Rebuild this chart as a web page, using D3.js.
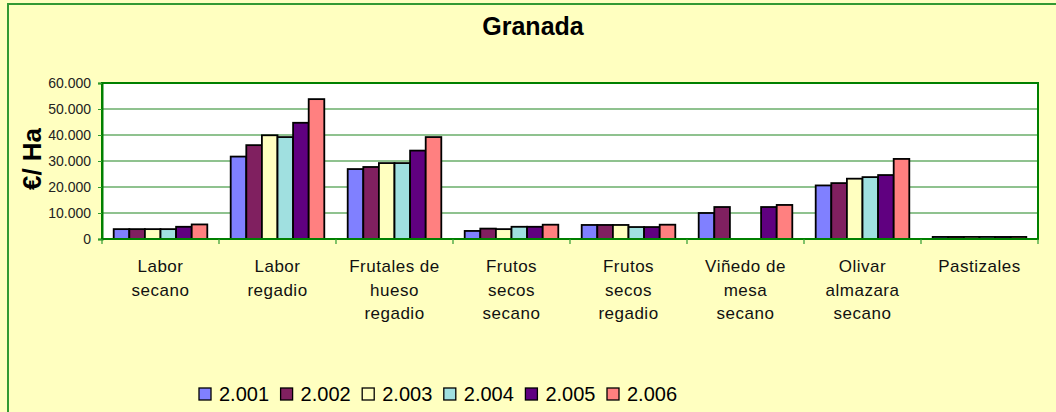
<!DOCTYPE html>
<html>
<head>
<meta charset="utf-8">
<script src="https://cdn.jsdelivr.net/npm/d3@7"></script>
<style>
  html, body { margin: 0; padding: 0; background: #FFFFC0; }
  svg { display: block; font-family: "Liberation Sans", Arial, sans-serif; }
</style>
</head>
<body>
<div id="chart"></div>
<script>
// categories (line breaks as in the original labels)
var categories = [
  "Labor\nsecano",
  "Labor\nregadio",
  "Frutales de\nhueso\nregadio",
  "Frutos\nsecos\nsecano",
  "Frutos\nsecos\nregadio",
  "Viñedo de\nmesa\nsecano",
  "Olivar\nalmazara\nsecano",
  "Pastizales"
];
var years = ["2.001", "2.002", "2.003", "2.004", "2.005", "2.006"];
var colors = ["#8080FF", "#802060", "#FFFFC0", "#A0E0E0", "#600080", "#FF8080"];

// €/Ha per year, one value per category
var v2001 = [3800, 31700, 26900, 3100, 5400, 10000, 20600, 800];
var v2002 = [3800, 36100, 27700, 4000, 5400, 12300, 21500, 800];
var v2003 = [3800, 39900, 29200, 3800, 5400, null, 23200, 800];
var v2004 = [3800, 39200, 29200, 4700, 4600, null, 23800, 800];
var v2005 = [4700, 44700, 34000, 4700, 4600, 12300, 24600, 800];
var v2006 = [5600, 53800, 39200, 5500, 5500, 13100, 30800, 800];
var series = [v2001, v2002, v2003, v2004, v2005, v2006];

var yTicks = [0, 10000, 20000, 30000, 40000, 50000, 60000];

var W = 1056, H = 412;
var plot = {left: 102, right: 1038, top: 83, bottom: 239};

var svg = d3.select("#chart").append("svg")
  .attr("width", W)
  .attr("height", H);

// chart background + green frame (left and top visible)
svg.append("rect")
  .attr("x", 0).attr("y", 0).attr("width", W).attr("height", H)
  .attr("fill", "#FFFFC0");
svg.append("path")
  .attr("d", "M8," + H + "V4H" + W)
  .attr("fill", "none")
  .attr("stroke", "#339933")
  .attr("stroke-width", 2);

var x = d3.scaleBand()
  .domain(categories)
  .range([plot.left, plot.right])
  .padding(0);

var xs = d3.scaleBand()
  .domain(years)
  .range([0, x.bandwidth()])
  .paddingInner(0)
  .paddingOuter(0.75);

var y = d3.scaleLinear()
  .domain([0, 60000])
  .range([plot.bottom, plot.top]);

var locale = d3.formatLocale({decimal: ",", thousands: ".", grouping: [3], currency: ["", ""]});
var fmt = locale.format(",.0f");

// plot area
svg.append("rect")
  .attr("x", plot.left).attr("y", plot.top)
  .attr("width", plot.right - plot.left).attr("height", plot.bottom - plot.top)
  .attr("fill", "#ffffff");

// gridlines
svg.append("g")
  .selectAll("line")
  .data(yTicks.filter(function(d) { return d > 0 && d < 60000; }))
  .enter()
  .append("line")
    .attr("x1", plot.left).attr("x2", plot.right)
    .attr("y1", function(d) { return y(d); })
    .attr("y2", function(d) { return y(d); })
    .attr("stroke", "#6aae6a")
    .attr("stroke-width", 1.3);

// bars
var groups = svg.append("g")
  .selectAll("g")
  .data(series)
  .enter()
  .append("g")
    .attr("fill", function(d, i) { return colors[i]; });

groups.selectAll("rect")
  .data(function(d, i) {
    return d.map(function(v, j) { return {v: v, cat: categories[j], year: years[i]}; })
      .filter(function(e) { return e.v != null; });
  })
  .enter()
  .append("rect")
    .attr("x", function(d) { return x(d.cat) + xs(d.year); })
    .attr("y", function(d) { return y(d.v); })
    .attr("width", xs.bandwidth())
    .attr("height", function(d) { return y(0) - y(d.v); })
    .attr("stroke", "#000")
    .attr("stroke-width", 1.8);

// plot frame
svg.append("rect")
  .attr("x", plot.left).attr("y", plot.top)
  .attr("width", plot.right - plot.left).attr("height", plot.bottom - plot.top)
  .attr("fill", "none")
  .attr("stroke", "#008000")
  .attr("stroke-width", 2);

// y axis
var yAxis = svg.append("g")
  .attr("transform", "translate(" + plot.left + ",0)")
  .call(d3.axisLeft(y).tickValues(yTicks).tickFormat(fmt).tickSize(4).tickPadding(7));
yAxis.select(".domain").attr("stroke", "#008000").attr("stroke-width", 2);
yAxis.selectAll(".tick line").attr("stroke", "#2e9a2e");
yAxis.selectAll("text")
  .attr("font-size", 14)
  .attr("fill", "#222")
  .attr("font-family", "Liberation Sans, Arial, sans-serif");

// x axis: ticks at category boundaries
var bounds = categories.map(function(c) { return x(c); }).concat([plot.right]);
svg.append("g")
  .selectAll("line")
  .data(bounds)
  .enter()
  .append("line")
    .attr("x1", function(d) { return d; }).attr("x2", function(d) { return d; })
    .attr("y1", plot.bottom).attr("y2", plot.bottom + 5)
    .attr("stroke", "#2e9a2e")
    .attr("stroke-width", 1.2);

// category labels
var labels = svg.append("g")
  .selectAll("text")
  .data(categories)
  .enter()
  .append("text")
    .attr("text-anchor", "middle")
    .attr("font-size", 17)
    .attr("fill", "#111")
    .attr("letter-spacing", 0.5);
labels.each(function(c) {
  var t = d3.select(this);
  c.split("\n").forEach(function(line, k) {
    t.append("tspan")
      .attr("x", x(c) + x.bandwidth() / 2)
      .attr("y", 272 + k * 23.5)
      .text(line);
  });
});

// title
svg.append("text")
  .attr("x", 533).attr("y", 35)
  .attr("text-anchor", "middle")
  .attr("font-size", 25)
  .attr("font-weight", "bold")
  .attr("fill", "#000")
  .text("Granada");

// y axis title
svg.append("text")
  .attr("transform", "translate(41,159) rotate(-90)")
  .attr("text-anchor", "middle")
  .attr("font-size", 26)
  .attr("font-weight", "bold")
  .attr("fill", "#000")
  .text("€/ Ha");

// legend
var legend = svg.append("g")
  .selectAll("g")
  .data(years)
  .enter()
  .append("g")
    .attr("transform", function(d, i) { return "translate(" + (199 + i * 81.6) + ",388)"; });
legend.append("rect")
  .attr("width", 12).attr("height", 12)
  .attr("fill", function(d, i) { return colors[i]; })
  .attr("stroke", "#000")
  .attr("stroke-width", 1.3);
legend.append("text")
  .attr("x", 20).attr("y", 13)
  .attr("font-size", 20)
  .attr("fill", "#000")
  .text(function(d) { return d; });
</script>
</body>
</html>
